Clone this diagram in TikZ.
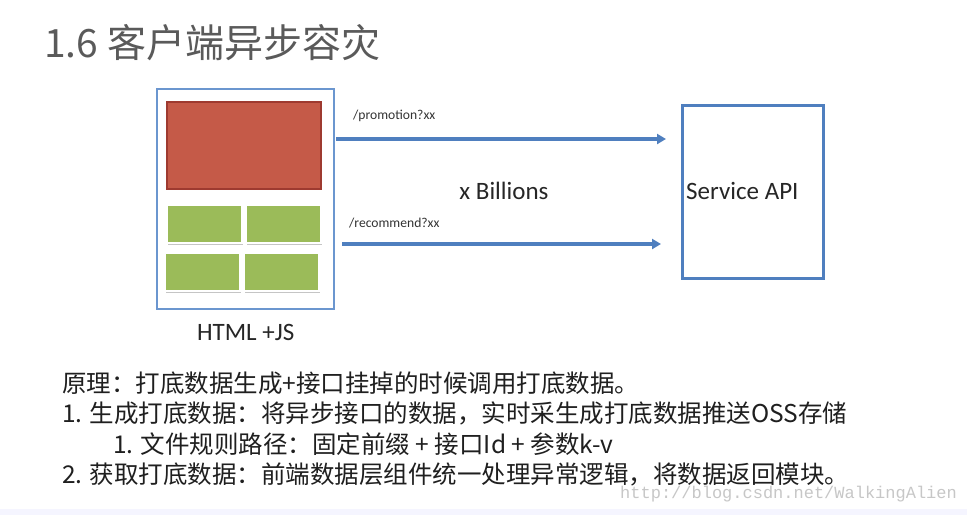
\documentclass[tikz,border=0pt]{standalone}
\usepackage{fontspec}
\setmainfont{Carlito}
\newfontfamily\cjk{Noto Sans CJK SC}
\newfontfamily\wmfont{Liberation Mono}
\usepackage{xcolor}
\usepackage{tikz}
\usetikzlibrary{arrows.meta, positioning, calc, shadows}

\definecolor{pageblue}{HTML}{6B96CF}
\definecolor{lineblue}{HTML}{4F7FBF}
\definecolor{bannerred}{HTML}{C55A48}
\definecolor{bannerrim}{HTML}{9E3A30}
\definecolor{tilegreen}{HTML}{9BBB59}
\definecolor{titlegray}{HTML}{5A5A5A}

\begin{document}
\begin{tikzpicture}[
  x=1pt, y=-1pt,
  page/.style={draw=pageblue, line width=2.4pt, anchor=north west,
               minimum width=177pt, minimum height=220pt, inner sep=0pt},
  banner/.style={draw=bannerrim, fill=bannerred, line width=1.8pt, anchor=north west,
                 minimum width=154pt, minimum height=87pt, inner sep=0pt,
                 drop shadow={opacity=0.3, shadow xshift=1.2pt, shadow yshift=-1.5pt}},
  tile/.style={draw=white, fill=tilegreen, line width=2.4pt, anchor=north west,
               minimum width=75pt, minimum height=38pt, inner sep=0pt,
               drop shadow={opacity=0.45, shadow xshift=1.2pt, shadow yshift=-1.8pt}},
  api/.style={draw=lineblue, line width=3pt, anchor=north west,
              minimum width=141pt, minimum height=173pt, inner sep=0pt},
  lbl/.style={font=\fontsize{25}{30}\selectfont, text=black!85, inner sep=0pt},
  url/.style={font=\fontsize{13.6}{16}\selectfont, text=black!80, inner sep=0pt, anchor=west},
  txt/.style={font=\cjk\fontsize{24.5}{30}\selectfont, text=black!88, inner sep=0pt, anchor=west},
  ar/.style={-{Triangle[length=9pt, width=10pt]}, draw=lineblue, line width=3.4pt}
]
\useasboundingbox[fill=white] (0,0) rectangle (967,515);
\fill[blue!4] (0,509) rectangle (967,515);

% title
\node[anchor=west, inner sep=0pt, text=titlegray,
      font=\cjk\fontsize{39}{42}\selectfont] (title) at (44,43) {1.6 客户端异步容灾};

% page mock-up
\node[page]   (pg) at (156,88) {};
\node[banner] (hero) at (166,101) {};
\node[tile] (t1) at (166,204) {};
\node[tile] (t2) at (245,204) {};
\node[tile] (t3) at (164,252) {};
\node[tile] (t4) at (243,252) {};
\node[lbl, below=14pt of pg] (html) {HTML +JS};

% service
\node[api] (svc) at (681,104) {};
\node[lbl, anchor=west] (svcl) at (686,191) {Service API};

% calls
\coordinate (c1a) at (336,139);
\coordinate (c1b) at (666,139);
\coordinate (c2a) at (342,244);
\coordinate (c2b) at (661,244);
\draw[ar] (c1a) -- (c1b);
\draw[ar] (c2a) -- (c2b);
\node[url] (u1) at (353,116) {/promotion?xx};
\node[url] (u2) at (349,223) {/recommend?xx};
\node[lbl] (bn) at (504,191) {x Billions};

% notes
\node[txt] (n1) at (62,383) {原理：打底数据生成+接口挂掉的时候调用打底数据。};
\node[txt] (n2) at (62,413) {1. 生成打底数据：将异步接口的数据，实时采生成打底数据推送OSS存储};
\node[txt] (n3) at (113,444) {1. 文件规则路径：固定前缀 + 接口Id + 参数k-v};
\node[txt] (n4) at (62,474) {2. 获取打底数据：前端数据层组件统一处理异常逻辑，将数据返回模块。};
\node[anchor=west, inner sep=0pt, text=black!22,
      font=\wmfont\fontsize{17}{20}\selectfont] (wm) at (620,494) {http://blog.csdn.net/WalkingAlien};
\end{tikzpicture}
\end{document}
